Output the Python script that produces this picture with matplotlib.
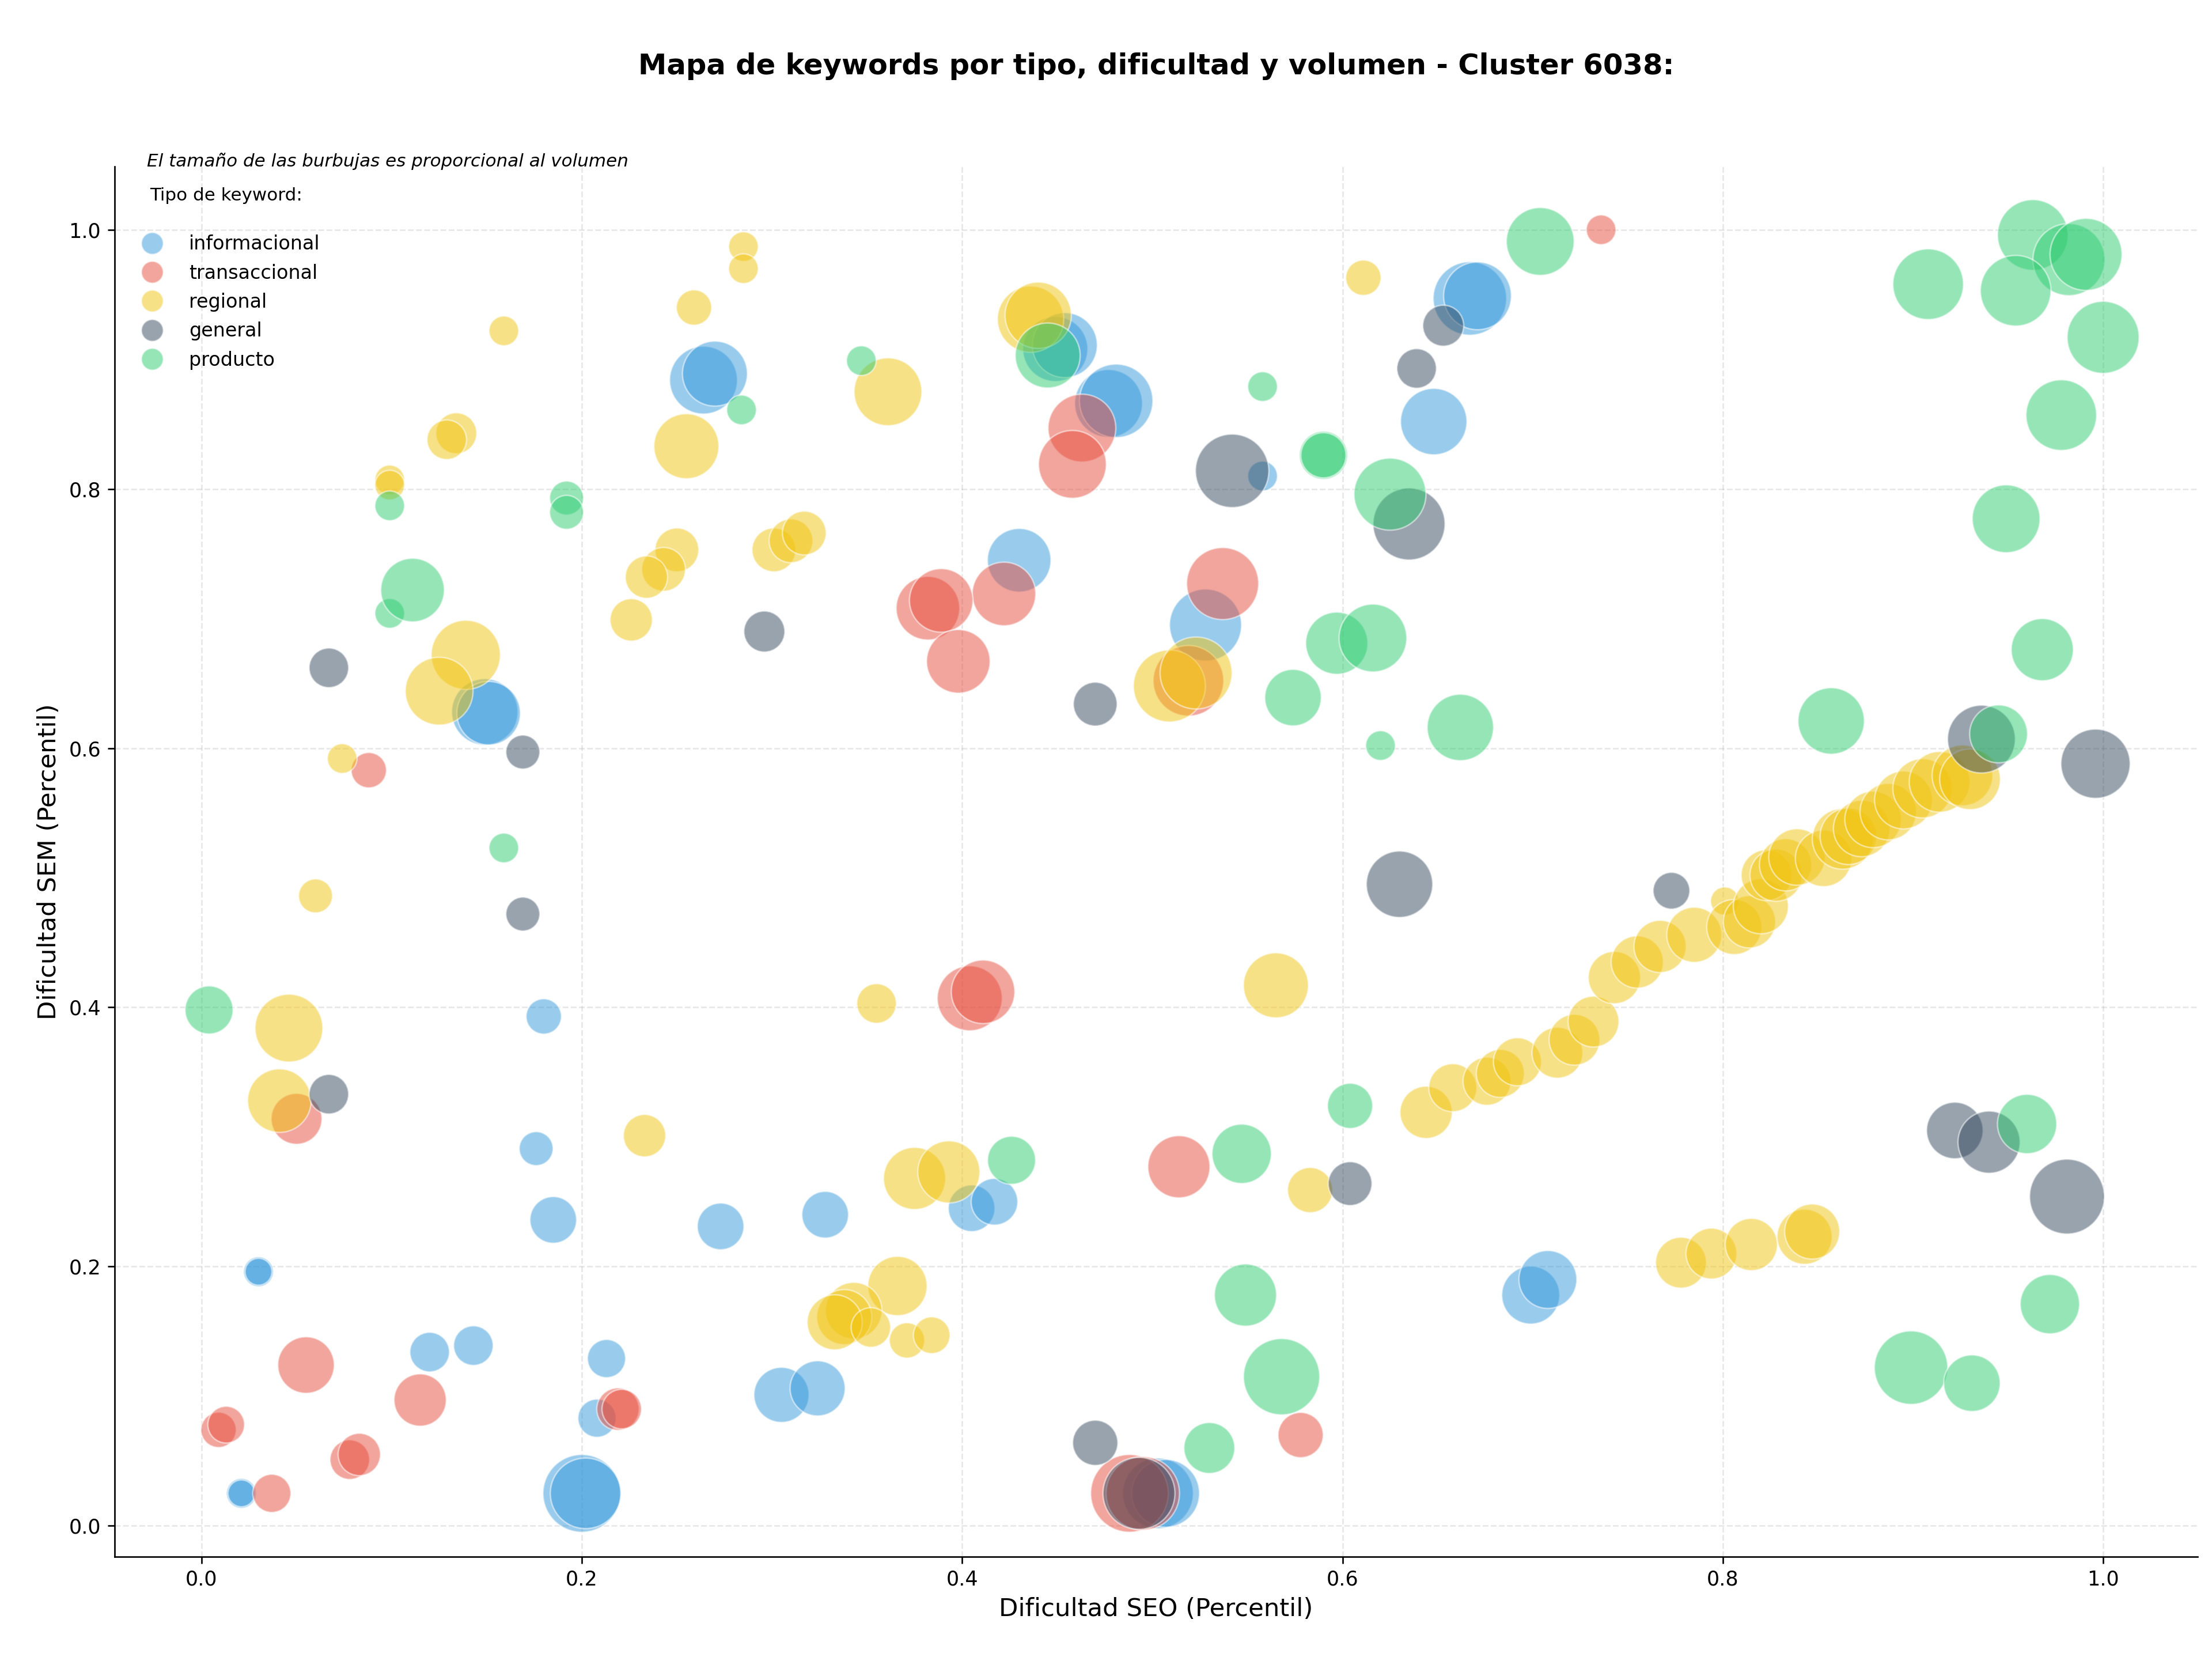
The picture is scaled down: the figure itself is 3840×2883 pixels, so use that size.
import matplotlib
matplotlib.use("Agg")
import matplotlib.pyplot as plt
from matplotlib.lines import Line2D

# ---------------- data ----------------
categorias = ["informacional", "transaccional", "regional", "general", "producto"]
colores = {"informacional": "#3498db", "transaccional": "#e74c3c",
           "regional": "#f1c40f", "general": "#34495e", "producto": "#2ecc71"}

# informacional
info_seo = [0.667, 0.671, 0.648, 0.558, 0.528, 0.477, 0.481, 0.449, 0.454, 0.430,
            0.264, 0.270, 0.149, 0.151, 0.180, 0.176, 0.185, 0.030, 0.030, 0.021,
            0.021, 0.120, 0.143, 0.213, 0.208, 0.200, 0.202, 0.273, 0.328, 0.305,
            0.324, 0.405, 0.417, 0.699, 0.708, 0.503, 0.507]
info_sem = [0.947, 0.949, 0.852, 0.810, 0.695, 0.866, 0.868, 0.908, 0.911, 0.745,
            0.884, 0.889, 0.628, 0.627, 0.393, 0.291, 0.236, 0.196, 0.196, 0.025,
            0.025, 0.134, 0.139, 0.129, 0.083, 0.025, 0.025, 0.231, 0.240, 0.101,
            0.106, 0.245, 0.250, 0.178, 0.190, 0.025, 0.025]
info_vol = [52, 48, 47, 21, 51, 48, 52, 46, 46, 45,
            48, 46, 47, 45, 25, 24, 33, 21, 19, 21,
            19, 28, 28, 27, 27, 55, 50, 33, 33, 39,
            39, 33, 33, 41, 41, 50, 48]

# transaccional
trans_seo = [0.736, 0.463, 0.458, 0.537, 0.422, 0.382, 0.389, 0.398, 0.519, 0.088,
             0.050, 0.404, 0.411, 0.514, 0.578, 0.055, 0.115, 0.219, 0.221, 0.009,
             0.013, 0.078, 0.083, 0.037, 0.488, 0.495]
trans_sem = [1.000, 0.847, 0.819, 0.727, 0.719, 0.708, 0.714, 0.667, 0.652, 0.583,
             0.314, 0.407, 0.412, 0.277, 0.070, 0.124, 0.097, 0.090, 0.090, 0.074,
             0.078, 0.051, 0.055, 0.025, 0.025, 0.025]
trans_vol = [21, 48, 48, 51, 45, 45, 45, 45, 50, 25,
             36, 46, 45, 44, 32, 40, 37, 30, 28, 25,
             26, 28, 30, 27, 55, 52]

# regional
reg_seo = [0.285, 0.285, 0.259, 0.159, 0.099, 0.099, 0.134, 0.129, 0.255, 0.250,
           0.243, 0.234, 0.226, 0.301, 0.310, 0.317, 0.361, 0.436, 0.440, 0.139,
           0.125, 0.074, 0.060, 0.046, 0.041, 0.233, 0.355, 0.611, 0.509, 0.523,
           0.565, 0.583, 0.375, 0.393, 0.366, 0.343, 0.338, 0.333, 0.352, 0.371,
           0.384,
           0.644, 0.658, 0.676, 0.683, 0.692, 0.713, 0.722, 0.732, 0.743, 0.755,
           0.767, 0.785, 0.801, 0.806, 0.814, 0.820, 0.823, 0.828, 0.833, 0.839,
           0.853, 0.863, 0.866, 0.873, 0.879, 0.887, 0.895, 0.905, 0.914, 0.926,
           0.930,
           0.778, 0.794, 0.815, 0.843, 0.847]
reg_sem = [0.987, 0.970, 0.940, 0.922, 0.807, 0.803, 0.843, 0.838, 0.833, 0.753,
           0.738, 0.732, 0.699, 0.753, 0.760, 0.766, 0.875, 0.931, 0.934, 0.672,
           0.644, 0.592, 0.486, 0.384, 0.328, 0.301, 0.403, 0.963, 0.648, 0.658,
           0.417, 0.259, 0.268, 0.273, 0.185, 0.166, 0.161, 0.157, 0.153, 0.143,
           0.147,
           0.319, 0.338, 0.343, 0.349, 0.358, 0.365, 0.375, 0.389, 0.423, 0.435,
           0.447, 0.456, 0.482, 0.462, 0.466, 0.478, 0.502, 0.502, 0.510, 0.516,
           0.515, 0.530, 0.532, 0.538, 0.545, 0.551, 0.560, 0.569, 0.574, 0.579,
           0.576,
           0.203, 0.210, 0.217, 0.223, 0.227]
reg_vol = [21, 21, 25, 21, 21, 21, 29, 28, 46, 31,
           31, 30, 30, 31, 31, 31, 48, 47, 47, 49,
           48, 21, 24, 48, 45, 30, 28, 25, 51, 51,
           46, 32, 44, 44, 42, 40, 39, 39, 28, 25,
           26,
           37, 34, 34, 34, 34, 36, 36, 36, 37, 37,
           37, 39, 20, 39, 37, 39, 36, 37, 37, 40,
           40, 43, 40, 40, 40, 40, 41, 42, 43, 43,
           43,
           36, 36, 37, 39, 39]

# general
gen_seo = [0.653, 0.639, 0.542, 0.635, 0.296, 0.470, 0.067, 0.169, 0.169, 0.067,
           0.630, 0.773, 0.936, 0.996, 0.922, 0.940, 0.981, 0.604, 0.470, 0.493]
gen_sem = [0.926, 0.893, 0.814, 0.773, 0.690, 0.634, 0.662, 0.597, 0.472, 0.333,
           0.495, 0.490, 0.607, 0.588, 0.305, 0.296, 0.254, 0.264, 0.064, 0.025]
gen_vol = [29, 28, 52, 51, 29, 31, 28, 24, 24, 28,
           47, 26, 48, 49, 40, 44, 53, 31, 32, 51]

# producto
prod_seo = [0.704, 0.963, 0.982, 0.991, 0.908, 0.954, 1.000, 0.978, 0.949, 0.968,
            0.857, 0.945, 0.960, 0.972, 0.899, 0.931, 0.568, 0.549, 0.530, 0.547,
            0.604, 0.662, 0.620, 0.574, 0.597, 0.616, 0.625, 0.590, 0.590, 0.558,
            0.445, 0.347, 0.284, 0.192, 0.192, 0.099, 0.099, 0.111, 0.159, 0.004,
            0.426]
prod_sem = [0.991, 0.996, 0.977, 0.981, 0.958, 0.953, 0.917, 0.857, 0.777, 0.676,
            0.621, 0.611, 0.310, 0.171, 0.122, 0.110, 0.115, 0.178, 0.060, 0.287,
            0.324, 0.616, 0.602, 0.639, 0.681, 0.685, 0.796, 0.826, 0.826, 0.879,
            0.903, 0.899, 0.861, 0.793, 0.782, 0.787, 0.704, 0.722, 0.523, 0.398,
            0.282]
prod_vol = [48, 50, 51, 51, 50, 50, 51, 50, 48, 44,
            47, 41, 42, 42, 52, 40, 54, 44, 36, 42,
            32, 47, 21, 40, 44, 48, 51, 34, 32, 21,
            46, 21, 21, 24, 24, 21, 21, 45, 21, 34,
            34]

series = {
    "informacional": (info_seo, info_sem, info_vol),
    "transaccional": (trans_seo, trans_sem, trans_vol),
    "regional": (reg_seo, reg_sem, reg_vol),
    "general": (gen_seo, gen_sem, gen_vol),
    "producto": (prod_seo, prod_sem, prod_vol),
}

titulo = "Mapa de keywords por tipo, dificultad y volumen - Cluster 6038:"
nota = "El tamaño de las burbujas es proporcional al volumen"

# ---------------- figure ----------------
fig = plt.figure(figsize=(16, 2883 / 240), dpi=240)
ax = fig.add_axes([0.0517, 0.0629, 0.9419, 0.8368])

SIZE_K = 0.54  # marker area (pt^2) per volume unit^2
for cat in categorias:
    xs, ys, vs = series[cat]
    ax.scatter(xs, ys, s=[SIZE_K * v * v for v in vs], c=colores[cat], alpha=0.5,
               edgecolors="white", linewidths=0.8, label=cat, zorder=3)

ax.set_xlabel("Dificultad SEO (Percentil)", fontsize=13)
ax.set_ylabel("Dificultad SEM (Percentil)", fontsize=13)
ax.set_title(titulo, fontsize=14.9, fontweight="bold", pad=48)
ax.tick_params(labelsize=10.5)

ax.grid(True, linestyle="--", alpha=0.3, zorder=0)
ax.spines["top"].set_visible(False)
ax.spines["right"].set_visible(False)

handles = [Line2D([0], [0], marker="o", linestyle="none", markersize=11.4,
                  markerfacecolor=colores[c], markeredgecolor="white",
                  markeredgewidth=0.8, alpha=0.5) for c in categorias]
ax.legend(handles, categorias, loc="upper left", bbox_to_anchor=(0.009, 0.951),
          frameon=False, fontsize=10, borderpad=0, borderaxespad=0,
          labelspacing=0.52, handlelength=2.0, handletextpad=0.9)

ax.text(0.0169, 0.979, "Tipo de keyword:", transform=ax.transAxes, fontsize=9.3,
        va="center", ha="left")
ax.text(0.0156, 1.004, nota, transform=ax.transAxes, fontsize=9.3, style="italic",
        va="center", ha="left")

fig.savefig("out.png", dpi=240)
